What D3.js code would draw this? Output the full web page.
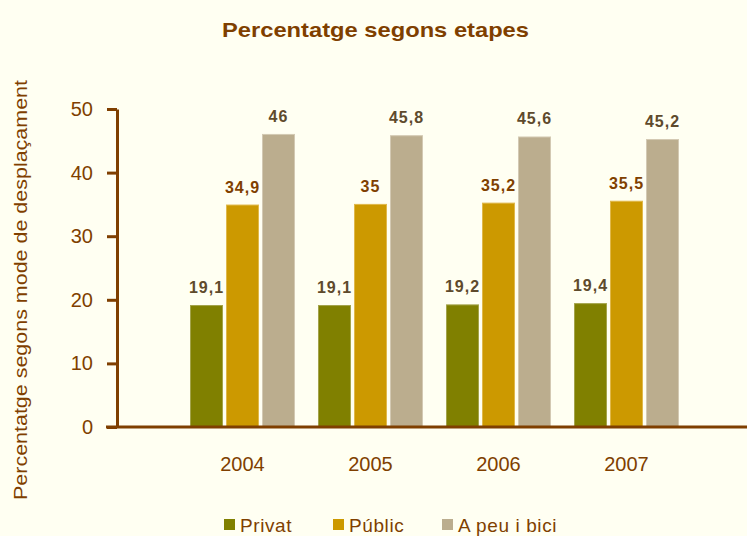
<!DOCTYPE html>
<html><head><meta charset="utf-8">
<script src="https://cdn.jsdelivr.net/npm/d3@7"></script>
<style>
html,body{margin:0;padding:0;background:#FFFFF2;}
svg{display:block;font-family:"Liberation Sans",Arial,sans-serif;}
</style></head>
<body><svg id="c" width="747" height="536"></svg>
<script>
const categories = ["2004","2005","2006","2007"];
const seriesNames = ["Privat","Públic","A peu i bici"];
const privat = [19.1, 19.1, 19.2, 19.4];
const public_ = [34.9, 35, 35.2, 35.5];
const apeu = [46, 45.8, 45.6, 45.2];
const yTicks = [0,10,20,30,40,50];
const seriesValues = [privat, public_, apeu];
const colors = ["#808000","#CC9900","#BBAD8E"];
const strokeColors = ["#A3A34A","#E0B84A","#D3C9B3"];
const labelColors = ["#5E4A2C","#7F4000","#5E4A2C"];
const fmt = v => String(v).replace(".", ",");

const svg = d3.select("#c");
svg.append("rect").attr("width",747).attr("height",536).attr("fill","#FFFFF2");
const brown = "#7F3F00";

const y = d3.scaleLinear().domain([0,50]).range([427,109]);
const x0 = d3.scaleBand().domain(categories).range([178.5,690.5]).padding(0);
const x1 = d3.scaleBand().domain(seriesNames).range([12,116]).paddingInner(0.111).paddingOuter(0);

// title
svg.append("text").attr("x",375.5).attr("y",37).attr("text-anchor","middle")
  .attr("font-size",21).attr("font-weight","bold").attr("fill",brown)
  .attr("textLength",307).attr("lengthAdjust","spacingAndGlyphs")
  .text("Percentatge segons etapes");

// y title
svg.append("text").attr("transform","translate(27,290) rotate(-90)")
  .attr("text-anchor","middle").attr("font-size",19).attr("fill",brown)
  .attr("textLength",420).attr("lengthAdjust","spacingAndGlyphs")
  .text("Percentatge segons mode de desplaçament");

// bars
const groups = svg.selectAll("g.grp").data(categories).enter().append("g")
  .attr("class","grp").attr("transform",d=>`translate(${x0(d)},0)`);
seriesNames.forEach((s,si)=>{
  groups.append("rect")
    .attr("x",x1(s)).attr("width",x1.bandwidth())
    .attr("y",(d,i)=>y(seriesValues[si][i]))
    .attr("height",(d,i)=>y(0)-y(seriesValues[si][i]))
    .attr("fill",colors[si]).attr("stroke",strokeColors[si]).attr("stroke-width",1);
  groups.append("text")
    .attr("x",x1(s)+x1.bandwidth()/2)
    .attr("y",(d,i)=>y(seriesValues[si][i])-12.5)
    .attr("text-anchor","middle").attr("font-size",16).attr("font-weight","bold")
    .attr("letter-spacing",1).attr("fill",labelColors[si])
    .text((d,i)=>fmt(seriesValues[si][i]));
});

// y axis
const yAxis = svg.append("g").attr("transform","translate(117,0)")
  .call(d3.axisLeft(y).tickValues(yTicks).tickSize(10).tickPadding(14).tickSizeOuter(0));
yAxis.select(".domain").attr("stroke",brown).attr("stroke-width",3);
yAxis.selectAll(".tick line").attr("stroke",brown).attr("stroke-width",3);
yAxis.selectAll(".tick text").attr("fill",brown).attr("font-size",20)
  .attr("font-family","Liberation Sans, Arial, sans-serif");

// x baseline
svg.append("line").attr("x1",106).attr("x2",747).attr("y1",y(0)).attr("y2",y(0))
  .attr("stroke",brown).attr("stroke-width",3);

// x labels
svg.selectAll("text.xl").data(categories).enter().append("text").attr("class","xl")
  .attr("x",d=>x0(d)+x0.bandwidth()/2).attr("y",471)
  .attr("text-anchor","middle").attr("font-size",20).attr("fill",brown).text(d=>d);

// legend
const legX = [224, 333, 442];
seriesNames.forEach((s,i)=>{
  svg.append("rect").attr("x",legX[i]).attr("y",519).attr("width",11).attr("height",11)
    .attr("fill",colors[i]);
  svg.append("text").attr("x",legX[i]+16).attr("y",532).attr("font-size",19)
    .attr("letter-spacing",0.6).attr("fill",brown).text(s);
});
</script></body></html>
